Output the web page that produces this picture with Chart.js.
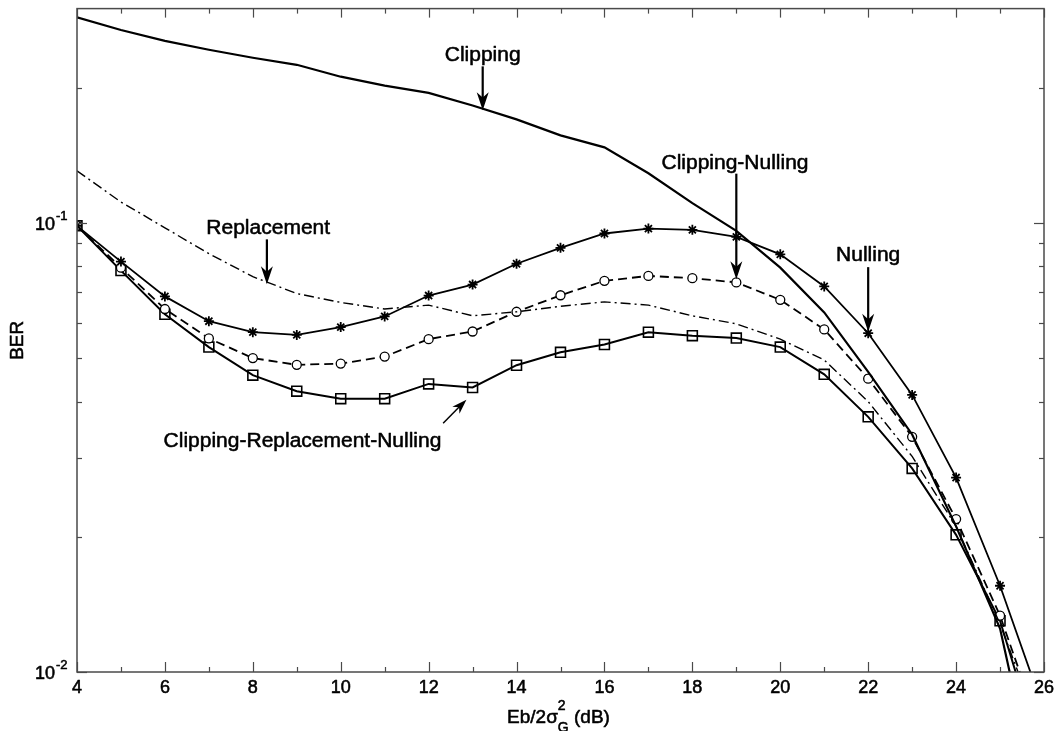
<!DOCTYPE html>
<html><head><meta charset="utf-8">
<script src="https://cdn.jsdelivr.net/npm/chart.js@4.4.1/dist/chart.umd.min.js"></script>
<style>html,body{margin:0;padding:0;background:#fff}canvas{display:block}</style>
</head><body>
<canvas id="c" width="1058" height="731"></canvas>
<script>
// ---- data ----
const snrDb = [4,5,6,7,8,9,10,11,12,13,14,15,16,17,18,19,20,21,22,23,24,25,26];
const clipping = [0.2870,0.2689,0.2543,0.2429,0.2332,0.2249,0.2116,0.2021,0.1947,0.1825,0.1700,0.1566,0.1473,0.1290,0.1107,0.0960,0.0795,0.0632,0.0466,0.0338,0.0211,0.0125,0.0045];
const replacement = [0.1306,0.1113,0.0975,0.0854,0.0759,0.0696,0.0665,0.0643,0.0656,0.0621,0.0634,0.0652,0.0667,0.0656,0.0621,0.0596,0.0551,0.0495,0.0400,0.0302,0.0211,0.0128,0.0070];
const nulling = [0.0985,0.0820,0.0686,0.0604,0.0571,0.0563,0.0586,0.0619,0.0689,0.0729,0.0811,0.0880,0.0947,0.0971,0.0965,0.0931,0.0851,0.0722,0.0568,0.0414,0.0271,0.01556,0.0082];
const clippingNulling = [0.0985,0.0795,0.0643,0.0553,0.0500,0.0483,0.0486,0.0504,0.0551,0.0573,0.0634,0.0690,0.0743,0.0762,0.0753,0.0737,0.0674,0.0579,0.0450,0.0334,0.0219,0.01335,0.0070];
const clipRepNull = [0.0985,0.0783,0.0626,0.0529,0.0458,0.0422,0.0406,0.0406,0.0438,0.0430,0.0482,0.0515,0.0536,0.0571,0.0561,0.0554,0.0529,0.0460,0.0370,0.0284,0.0202,0.0130,0.0062];

const xMajorTicks = [4,6,8,10,12,14,16,18,20,22,24,26];
const xMinorTicks = [5,7,9,11,13,15,17,19,21,23,25];
const yMajorTicks = [0.01,0.1];
const yMajorExp = ['-2','-1'];
const yMinorTicks = [0.02,0.03,0.04,0.05,0.06,0.07,0.08,0.09,0.2];

const xTitle = 'Eb/2σ', xTitleSup = '2', xTitleSub = 'G', xTitleTail = '(dB)';
const yTitle = 'BER';

// annotation labels (text, anchor in data units, arrow start/end in data units)
const notes = [
  {text:'Clipping', tx:13.23, ty:0.2357, ax1:13.23, ay1:0.2231, ax2:13.23, ay2:0.1782},
  {text:'Clipping-Nulling', tx:18.97, ty:0.1360, ax1:19, ay1:0.1287, ax2:19, ay2:0.0749},
  {text:'Nulling', tx:22.0, ty:0.0847, ax1:22, ay1:0.0797, ax2:22, ay2:0.0572},
  {text:'Replacement', tx:8.35, ty:0.0972, ax1:8.32, ay1:0.0919, ax2:8.32, ay2:0.0730},
  {text:'Clipping-Replacement-Nulling', tx:9.13, ty:0.0326, ax1:12.33, ay1:0.0358, ax2:12.86, ay2:0.0404}
];

const pts = arr => arr.map((v,i)=>({x:snrDb[i], y:v}));
const FONT = "'Liberation Sans', Arial, sans-serif";

function txt(ctx, s, x, y) {
  ctx.fillText(s, x, y);
  ctx.strokeText(s, x, y);
}

function arrow(ctx, x1, y1, x2, y2, w, headLen, headW) {
  const ang = Math.atan2(y2-y1, x2-x1);
  const c = Math.cos(ang), s = Math.sin(ang);
  const bx = x2 - headLen*c, by = y2 - headLen*s;
  ctx.lineWidth = w;
  ctx.beginPath(); ctx.moveTo(x1,y1); ctx.lineTo(x2 - headLen*0.6*c, y2 - headLen*0.6*s); ctx.stroke();
  const px = -s, py = c, notch = headLen*0.7;
  ctx.beginPath();
  ctx.moveTo(x2,y2);
  ctx.lineTo(bx + px*headW, by + py*headW);
  ctx.lineTo(x2 - notch*c, y2 - notch*s);
  ctx.lineTo(bx - px*headW, by - py*headW);
  ctx.closePath(); ctx.fill();
}

const axesPlugin = {
  id:'matlabAxes',
  afterDatasetsDraw(chart) {
    const {ctx, chartArea:a, scales:{x, y}} = chart;
    ctx.save();
    // box
    ctx.strokeStyle = '#4a4a4a'; ctx.lineWidth = 1.5;
    ctx.strokeRect(a.left, a.top, a.right-a.left, a.bottom-a.top);
    // ticks
    ctx.lineWidth = 1.2;
    const tick = (x1,y1,x2,y2)=>{ctx.beginPath();ctx.moveTo(x1,y1);ctx.lineTo(x2,y2);ctx.stroke();};
    xMajorTicks.forEach(v=>{const p=Math.round(x.getPixelForValue(v))+0.5; tick(p,a.bottom,p,a.bottom-10); tick(p,a.top,p,a.top+9);});
    xMinorTicks.forEach(v=>{const p=Math.round(x.getPixelForValue(v))+0.5; tick(p,a.bottom,p,a.bottom-5); tick(p,a.top,p,a.top+5);});
    yMajorTicks.forEach(v=>{const p=Math.round(y.getPixelForValue(v))+0.5; tick(a.left,p,a.left+10,p); tick(a.right,p,a.right-10,p);});
    yMinorTicks.forEach(v=>{const p=Math.round(y.getPixelForValue(v))+0.5; tick(a.left,p,a.left+5,p); tick(a.right,p,a.right-5,p);});
    // text styling: slightly heavier strokes like the reference
    ctx.fillStyle = '#000'; ctx.strokeStyle = '#000'; ctx.lineWidth = 0.55; ctx.lineJoin = 'round';
    ctx.font = '18px ' + FONT; ctx.textAlign = 'center'; ctx.textBaseline = 'alphabetic';
    xMajorTicks.forEach(v=>txt(ctx, String(v), x.getPixelForValue(v), a.bottom+21));
    yMajorTicks.forEach((v,i)=>{
      const p = y.getPixelForValue(v);
      ctx.font = '18px ' + FONT; ctx.textAlign = 'right';
      txt(ctx, '10', a.left-22, p+7);
      ctx.font = '13px ' + FONT; ctx.textAlign = 'left';
      txt(ctx, yMajorExp[i], a.left-21, p-3);
    });
    // y title
    ctx.save();
    ctx.translate(a.left-59, (a.top+a.bottom)/2);
    ctx.rotate(-Math.PI/2);
    ctx.font = '19px ' + FONT; ctx.textAlign = 'center'; ctx.textBaseline = 'middle';
    txt(ctx, yTitle, 0, 0);
    ctx.restore();
    // x title
    ctx.font = '19px ' + FONT;
    const w1 = ctx.measureText(xTitle).width;
    ctx.font = '14px ' + FONT;
    const w2 = Math.max(ctx.measureText(xTitleSup).width, ctx.measureText(xTitleSub).width);
    ctx.font = '19px ' + FONT;
    const w3 = ctx.measureText(' ' + xTitleTail).width;
    const total = w1 + w2 + w3;
    let x0 = (a.left+a.right)/2 - 2 - total/2;
    const base = a.bottom + 51;
    ctx.textAlign = 'left';
    txt(ctx, xTitle, x0, base);
    ctx.font = '14px ' + FONT;
    txt(ctx, xTitleSup, x0+w1, base-13);
    txt(ctx, xTitleSub, x0+w1, base+9);
    ctx.font = '19px ' + FONT;
    txt(ctx, ' ' + xTitleTail, x0+w1+w2, base);
    // annotations
    ctx.font = '21px ' + FONT; ctx.textAlign = 'center'; ctx.textBaseline = 'middle';
    notes.forEach(n=>{
      ctx.lineWidth = 0.55;
      txt(ctx, n.text, x.getPixelForValue(n.tx), y.getPixelForValue(n.ty));
      const diag = n.ax1 !== n.ax2;
      arrow(ctx, x.getPixelForValue(n.ax1), y.getPixelForValue(n.ay1), x.getPixelForValue(n.ax2), y.getPixelForValue(n.ay2),
            diag ? 1.5 : 2.2, diag ? 15 : 18, diag ? 5 : 6);
    });
    ctx.restore();
  }
};

new Chart(document.getElementById('c'), {
  type:'line',
  data:{ datasets:[
    {label:'Clipping', data:pts(clipping), borderColor:'#000', borderWidth:2.2, pointRadius:0, tension:0},
    {label:'Replacement', data:pts(replacement), borderColor:'#000', borderWidth:1.4, borderDash:[10,4,2,4], pointRadius:0, tension:0},
    {label:'Nulling', data:pts(nulling), borderColor:'#000', borderWidth:1.8, pointStyle:'star', pointRadius:5, pointBorderWidth:1.8, pointBorderColor:'#000', pointBackgroundColor:'#000', tension:0},
    {label:'Clipping-Nulling', data:pts(clippingNulling), borderColor:'#000', borderWidth:1.8, borderDash:[9,5], pointStyle:'circle', pointRadius:4.5, pointBorderWidth:1.3, pointBorderColor:'#000', pointBackgroundColor:'#fff', tension:0},
    {label:'Clipping-Replacement-Nulling', data:pts(clipRepNull), borderColor:'#000', borderWidth:2, pointStyle:'rect', pointRadius:7, pointBorderWidth:1.6, pointBorderColor:'#000', pointBackgroundColor:'rgba(0,0,0,0)', tension:0}
  ]},
  options:{
    responsive:false, animation:false, devicePixelRatio:1,
    layout:{padding:{left:77, right:14, top:5, bottom:59}},
    plugins:{legend:{display:false}, tooltip:{enabled:false}},
    scales:{
      x:{type:'linear', min:4, max:26, display:false},
      y:{type:'logarithmic', min:0.01, max:0.3, display:false}
    }
  },
  plugins:[axesPlugin]
});
</script>
</body></html>
